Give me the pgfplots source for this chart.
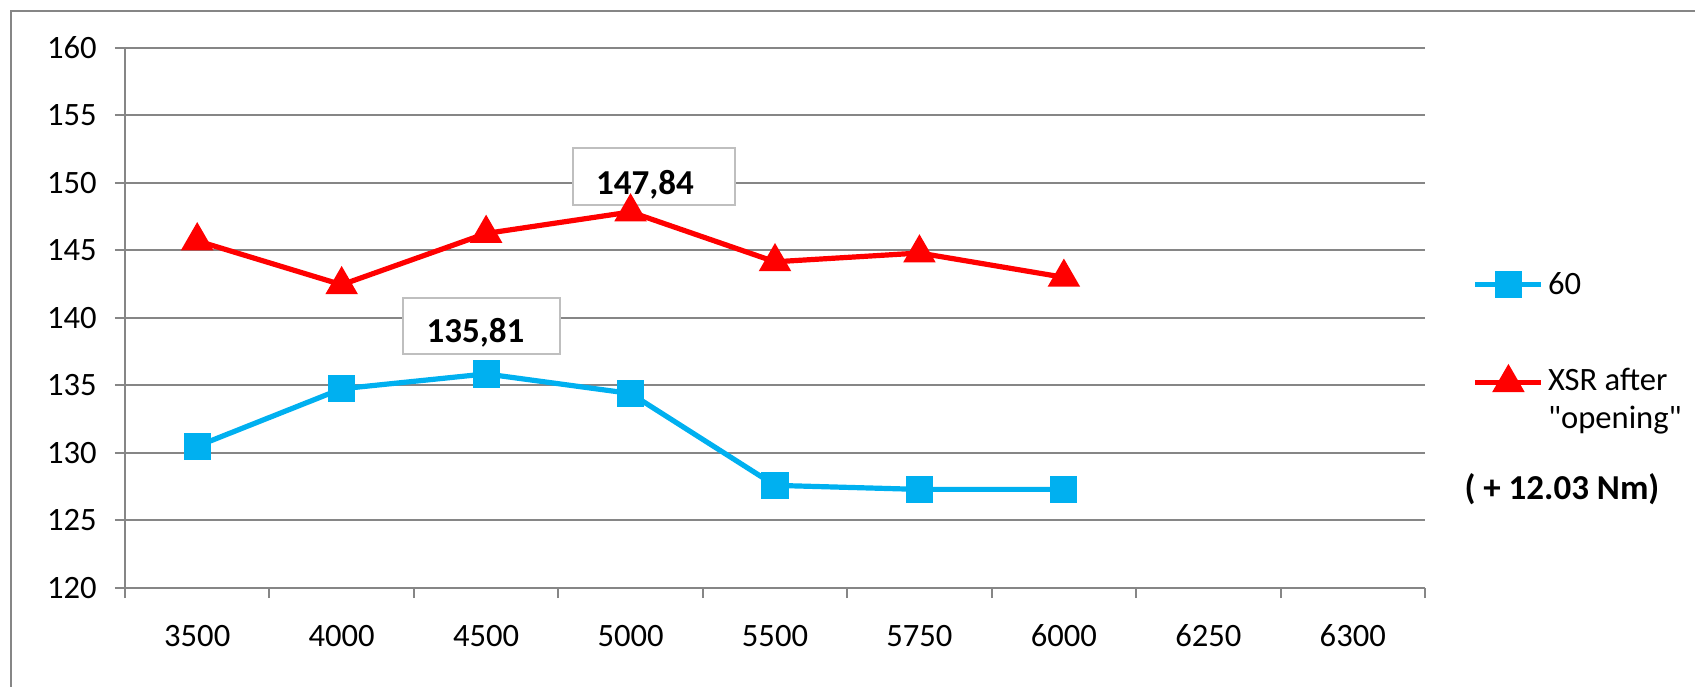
\documentclass[border=0pt]{standalone}
\usepackage{fontspec}
\setmainfont{Carlito}
\newfontfamily\rawfont{Carlito}
\usepackage{pgfplots}
\pgfplotsset{compat=1.18}
\definecolor{cblue}{HTML}{00B0F0}
\definecolor{cred}{HTML}{FF0000}
\definecolor{gridgray}{HTML}{868686}
\definecolor{boxgray}{HTML}{BFBFBF}
\begin{document}
\begin{tikzpicture}
\begin{axis}[
  at={(0,0)}, anchor=south west,
  scale only axis, width=650pt, height=270.15pt,
  xmin=-0.5, xmax=8.5, ymin=120, ymax=160,
  clip=false,
  axis x line*=bottom, axis y line*=left,
  axis line style={draw=gridgray, line width=1pt, -},
  xtick={0,...,8},
  xticklabels={3500,4000,4500,5000,5500,5750,6000,6250,6300},
  minor xtick={-0.5,0.5,...,8.5},
  ytick={120,125,...,160},
  tick align=outside,
  major tick length=5pt, minor tick length=5pt,
  major x tick style={draw=none},
  minor x tick style={draw=gridgray, line width=1pt},
  y tick style={draw=gridgray, line width=1pt},
  ymajorgrids,
  major grid style={draw=gridgray, line width=1pt},
  /pgf/number format/assume math mode=true,
  tick label style={font=\fontsize{16.3}{19}\selectfont, text=black},
  y tick label style={anchor=east, inner sep=0pt, xshift=-9pt},
  x tick label style={anchor=center, yshift=-18.8pt},
  legend style={at={(1.0365,0.593)}, anchor=north west, draw=none, fill=none,
    font=\fontsize{16.3}{19}\selectfont, cells={align=left}, row sep=31.8pt,
    inner sep=0pt},
  legend cell align=left,
  legend image code/.code={%
    \draw[mark repeat=2,mark phase=2,#1] plot coordinates {(0pt,0pt) (16.5pt,0pt) (33pt,0pt)};},
]
\addplot[cblue, line width=2.6pt, mark=square*, mark size=5.5pt, mark options={solid}]
  coordinates {(0,130.5) (1,134.75) (2,135.85) (3,134.4) (4,127.6) (5,127.3) (6,127.3)};
\addlegendentry{60}
\addplot[cred, line width=2.6pt, mark=triangle*, mark size=6.8pt, mark options={solid},
  legend image post style={yshift=8.8pt}]
  coordinates {(0,145.7) (1,142.45) (2,146.25) (3,147.84) (4,144.15) (5,144.8) (6,143.0)};
\addlegendentry{XSR after\\{\rawfont"}opening{\rawfont"}}
\node[draw=boxgray, line width=1pt, fill=white, minimum width=78.5pt, minimum height=28pt,
  inner sep=0pt] at (axis cs:1.968,139.40) {};
\node[font=\fontsize{17.5}{19}\selectfont\bfseries, anchor=base, inner sep=0pt,
  xshift=-3pt, yshift=-8.5pt] at (axis cs:1.968,139.40) {135,81};
\node[draw=boxgray, line width=1pt, fill=white, minimum width=81pt, minimum height=28.5pt,
  inner sep=0pt] at (axis cs:3.162,150.46) {};
\node[font=\fontsize{17.5}{19}\selectfont\bfseries, anchor=base, inner sep=0pt,
  xshift=-4.5pt, yshift=-8.75pt] at (axis cs:3.162,150.46) {147,84};
\node[font=\fontsize{17.5}{19}\selectfont\bfseries] at (axis cs:9.448,127.33) {( + 12.03 Nm)};
\end{axis}
\draw[draw=gridgray, line width=1pt] (-56.75pt,-60pt) -- (-56.75pt,288.25pt) -- (800pt,288.25pt);
\pgfresetboundingbox
\path[use as bounding box] (-62.5pt,-49pt) rectangle (785pt,294pt);
\end{tikzpicture}
\end{document}
